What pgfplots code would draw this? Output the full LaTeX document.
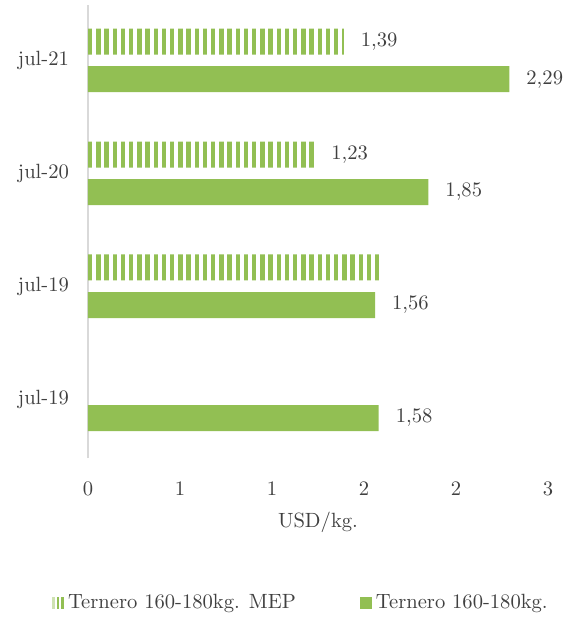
\documentclass[border=0pt]{standalone}
\usepackage{pgfplots}
\pgfplotsset{compat=1.18}
\usetikzlibrary{patterns.meta}
\definecolor{barcol}{RGB}{146,191,83}
\definecolor{txt}{RGB}{64,64,64}
\definecolor{axgray}{RGB}{217,217,217}

\begin{document}
\begin{tikzpicture}
\path[use as bounding box] (-44pt,-79.5pt) rectangle (245.5pt,229pt);
\begin{axis}[
    at={(0pt,0pt)}, anchor=south west,
    scale only axis,
    width=230pt, height=226.5pt,
    xbar, bar width=13pt,
    xmin=0, xmax=2.5,
    ymin=-0.52, ymax=3.49,
    xtick={0,0.5,1,1.5,2,2.5},
    xticklabels={0,1,1,2,2,3},
    ytick={0,1,2,3},
    yticklabels={jul-19,jul-19,jul-20,jul-21},
    major tick length=0pt,
    axis lines*=left,
    axis line style={-},
    x axis line style={draw=none},
    y axis line style={draw=axgray, line width=0.9pt},
    tick label style={font=\fontsize{10.3}{12}\selectfont, text=txt},
    xticklabel style={yshift=-8.5pt},
    yticklabel style={xshift=-6pt},
    xlabel={USD/kg.},
    xlabel style={font=\fontsize{10.3}{12}\selectfont, text=txt, yshift=-1pt},
    point meta=explicit symbolic,
    nodes near coords,
    nodes near coords align={horizontal},
    every node near coord/.append style={font=\fontsize{10.3}{12}\selectfont, text=txt, anchor=west, xshift=5pt},
    legend columns=2,
    legend style={at={(0.465,-0.32)}, anchor=center, draw=none,
        font=\fontsize{10.3}{12}\selectfont, text=txt,
        /tikz/every even column/.append style={column sep=30pt}},
]
% Ternero 160-180kg. MEP (rayado)
\addplot[draw=none, pattern={Lines[angle=90,distance=4.1pt,line width=2.2pt]}, pattern color=barcol, bar shift=9.4pt,
    legend image code/.code={
        \fill[barcol!45] (0pt,-3pt) rectangle (1.3pt,3pt);
        \fill[barcol] (2.4pt,-3pt) rectangle (3.7pt,3pt);
        \fill[barcol] (4.7pt,-3pt) rectangle (6pt,3pt);
    }] coordinates {
    (1.60,1) []
    (1.23,2) [{1,23}]
    (1.39,3) [{1,39}]
};
\addlegendentry{Ternero 160-180kg. MEP}
% Ternero 160-180kg.
\addplot[draw=none, fill=barcol, bar shift=-9.4pt,
    legend image code/.code={
        \fill[barcol] (0pt,-3pt) rectangle (6pt,3pt);
    }] coordinates {
    (1.58,0) [{1,58}]
    (1.56,1) [{1,56}]
    (1.85,2) [{1,85}]
    (2.29,3) [{2,29}]
};
\addlegendentry{Ternero 160-180kg.}
\end{axis}
\end{tikzpicture}
\end{document}
